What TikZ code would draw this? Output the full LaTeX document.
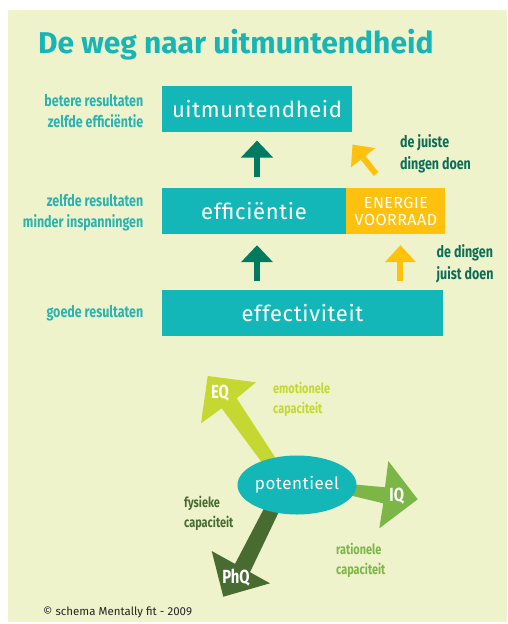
\documentclass[tikz,border=0pt]{standalone}
\usepackage{fontspec}
\usepackage{xcolor}
\usepackage{tikz}
\usetikzlibrary{arrows.meta,shapes.geometric}
\setmainfont{Fira Sans}
\newfontfamily\condfont[FakeStretch=0.78]{Fira Sans}
\newfontfamily\boxfont[LetterSpace=3]{Fira Sans}

\definecolor{achtergrond}{HTML}{EEF3CC}
\definecolor{blokteal}{HTML}{13B7B8}
\definecolor{titelteal}{HTML}{17B5B5}
\definecolor{linkstekst}{HTML}{2AB3B0}
\definecolor{pijlgroen}{HTML}{007A60}
\definecolor{rechtstekst}{HTML}{0D6E57}
\definecolor{energiegeel}{HTML}{FEC20E}
\definecolor{eqkleur}{HTML}{C4D831}
\definecolor{iqkleur}{HTML}{7BB646}
\definecolor{phqkleur}{HTML}{486B32}

\begin{document}
\begin{tikzpicture}[x=1pt,y=-1pt,
		blok/.style={fill=blokteal, text=white, inner sep=0pt, minimum height=46pt,
			font=\boxfont\fontsize{22}{24}\selectfont},
		energieblok/.style={fill=energiegeel, text=white, inner sep=0pt, minimum height=46pt,
			minimum width=99pt, align=center, font=\boxfont\fontsize{16}{17}\selectfont},
		linkslabel/.style={text=linkstekst, inner sep=0pt, align=right, anchor=base east,
			font=\condfont\bfseries\fontsize{16}{21}\selectfont},
		rechtslabel/.style={text=rechtstekst, inner sep=0pt, align=left, anchor=base west,
			font=\condfont\bfseries\fontsize{16}{22}\selectfont},
		caplabel/.style={inner sep=0pt, align=left, anchor=base west,
			font=\condfont\bfseries\fontsize{14}{19.5}\selectfont},
		qlabel/.style={text=white, inner sep=0pt, font=\condfont\bfseries\fontsize{19}{20}\selectfont},
		groenpijl/.style={draw=pijlgroen, line width=6pt, -{Triangle[width=31pt,length=17pt]}},
		geelpijl/.style={draw=energiegeel, line width=6pt, -{Triangle[width=30pt,length=17pt]}}]
	
	% achtergrond
	\useasboundingbox (0,0) rectangle (507,624);
	\fill[achtergrond] (8,10) rectangle (507,622);
	
	% titel
	\node[text=titelteal, inner sep=0pt, anchor=base west, font=\bfseries\fontsize{30}{32}\selectfont]
		(titel) at (38,53) {De weg naar uitmuntendheid};
	
	% blokken
	\node[blok, minimum width=190pt] (uitm) at (257,108.8) {uitmuntendheid};
	\node[blok, minimum width=184pt] (effi) at (254,211) {efficiëntie};
	\node[energieblok, anchor=west] (ener) at (effi.east) {ENERGIE\\VOORRAAD};
	\node[blok, minimum width=281pt] (effe) at (302.5,312.8) {effectiviteit};
	
	% teksten links (basislijn = laatste regel)
	\node[linkslabel] (l1) at (143.5,127) {betere resultaten\\zelfde efficiëntie};
	\node[linkslabel] (l2) at (143.5,227) {zelfde resultaten\\minder inspanningen};
	\node[linkslabel] (l3) at (143.5,317) {goede resultaten};
	
	% teksten rechts
	\node[rechtslabel] (r1) at (400,169) {de juiste\\dingen doen};
	\node[rechtslabel] (r2) at (436.5,279) {de dingen\\juist doen};
	
	% pijlen tussen de blokken
	\draw[groenpijl, shorten <=11pt, shorten >=8.5pt] (effi.north -| uitm.south) -- (uitm.south);
	\draw[groenpijl, shorten <=9pt, shorten >=11pt] (effe.north -| uitm.south) -- (effi.south -| uitm.south);
	\coordinate (ey) at ([xshift=4.5pt]ener.south);
	\draw[geelpijl, shorten <=9pt, shorten >=11pt] (ey |- effe.north) -- (ey);
	\coordinate (juistvoet) at (376,174);
	\coordinate (juisttip) at (352.5,144.5);
	\draw[geelpijl] (juistvoet) -- (juisttip);
	
	% potentieel met drie pijlen
	\fill[eqkleur] (207.7,376) -- (256,382.3) -- (236.7,398.3) -- (282.7,469) -- (266,468)
		-- (221.7,408.3) -- (201,423.3) -- cycle;
	\fill[iqkleur] (417.7,499.3) -- (388.3,461) -- (385,487.3) -- (330,482.2) -- (330,490.5)
		-- (383.3,503.3) -- (379.3,528.3) -- cycle;
	\fill[phqkleur] (223.3,596.7) -- (211.7,551) -- (235,563.9) -- (270,497) -- (285,499)
		-- (250,572.2) -- (270,583.3) -- cycle;
	\node[ellipse, fill=blokteal, text=white, inner sep=0pt, minimum width=90pt, minimum height=59pt,
		font=\boxfont\fontsize{17}{18}\selectfont] (pot) at (297,485) {potentieel};
	
	\node[qlabel] (eq) at (220,393.3) {EQ};
	\node[qlabel] (iq) at (396.7,495.8) {IQ};
	\node[qlabel] (phq) at (236,578) {PhQ};
	
	\node[caplabel, text=eqkleur] (c1) at (273,413) {emotionele\\capaciteit};
	\node[caplabel, text=phqkleur] (c2) at (184,527) {fysieke\\capaciteit};
	\node[caplabel, text=iqkleur] (c3) at (336,574) {rationele\\capaciteit};
	
	% bron
	\node[inner sep=0pt, anchor=base west, text=black!85, font=\fontsize{11.5}{12}\selectfont]
		(bron) at (43,615) {© schema Mentally fit - 2009};
	
\end{tikzpicture}
\end{document}
